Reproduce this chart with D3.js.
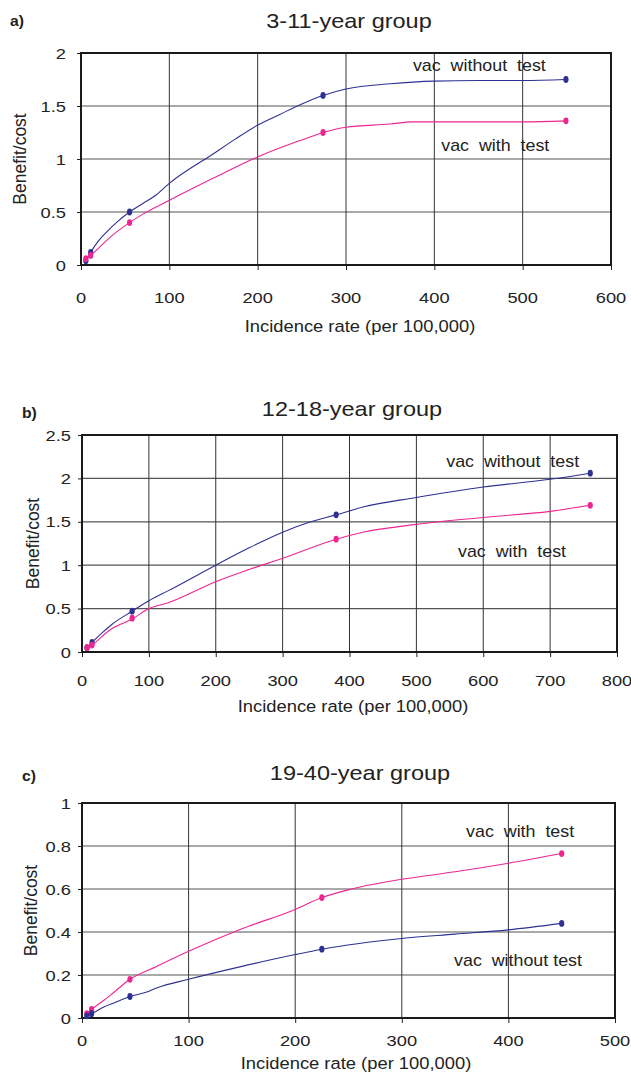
<!DOCTYPE html>
<html>
<head>
<meta charset="utf-8">
<script src="https://cdn.jsdelivr.net/npm/d3@7"></script>
<style>
  body { margin: 0; background: #fff; }
  svg { display: block; font-family: "Liberation Sans", Arial, sans-serif; }
  text { white-space: pre; }
</style>
</head>
<body>
<svg id="chart"></svg>
<script>
const width = 631;
const height = 1074;

// panel a) 3-11-year group
const aWithoutLine = [[5.5,0.04],[11,0.12],[20,0.23],[30,0.32],[40,0.40],[55,0.50],[70,0.58],[85,0.66],[100,0.77],[150,1.05],[175,1.19],[200,1.32],[225,1.42],[250,1.52],[274,1.60],[300,1.66],[350,1.71],[400,1.735],[450,1.74],[500,1.74],[549,1.75]];
const aWithoutPts = [[5.5,0.04],[11,0.12],[55,0.50],[274,1.60],[549,1.75]];
const aWithLine = [[5.5,0.06],[11,0.09],[20,0.16],[30,0.24],[40,0.31],[55,0.40],[70,0.48],[100,0.61],[150,0.82],[200,1.02],[250,1.18],[274,1.25],[300,1.30],[350,1.33],[375,1.35],[450,1.35],[500,1.35],[549,1.36]];
const aWithPts = [[5.5,0.06],[11,0.09],[55,0.40],[274,1.25],[549,1.36]];

// panel b) 12-18-year group
const bWithoutLine = [[7.5,0.05],[15,0.11],[30,0.22],[45,0.32],[75,0.47],[100,0.59],[130,0.71],[200,1.00],[250,1.20],[300,1.38],[342,1.50],[380,1.58],[420,1.67],[500,1.78],[600,1.90],[700,1.99],[760,2.06]];
const bWithoutPts = [[7.5,0.05],[15,0.11],[75,0.47],[380,1.58],[760,2.06]];
const bWithLine = [[7.5,0.05],[15,0.08],[30,0.18],[45,0.27],[75,0.38],[100,0.50],[130,0.57],[200,0.81],[250,0.95],[300,1.08],[380,1.30],[420,1.38],[500,1.47],[600,1.55],[700,1.62],[760,1.69]];
const bWithPts = [[7.5,0.05],[15,0.08],[75,0.39],[380,1.30],[760,1.69]];

// panel c) 19-40-year group
const cWithLine = [[4.5,0.02],[9,0.04],[20,0.08],[30,0.12],[45,0.18],[70,0.24],[100,0.31],[150,0.415],[200,0.505],[225,0.56],[253,0.60],[300,0.645],[350,0.68],[400,0.72],[450,0.765]];
const cWithPts = [[4.5,0.02],[9,0.04],[45,0.18],[225,0.56],[450,0.765]];
const cWithoutLine = [[4.5,0.01],[9,0.02],[20,0.05],[30,0.07],[45,0.10],[60,0.12],[70,0.14],[100,0.18],[150,0.24],[200,0.295],[225,0.32],[300,0.37],[350,0.39],[400,0.41],[450,0.44]];
const cWithoutPts = [[4.5,0.01],[9,0.02],[45,0.10],[225,0.32],[450,0.44]];

const xTicksA = [0, 100, 200, 300, 400, 500, 600];
const yTicksA = [0, 0.5, 1, 1.5, 2];
const xTicksB = [0, 100, 200, 300, 400, 500, 600, 700, 800];
const yTicksB = [0, 0.5, 1, 1.5, 2, 2.5];
const xTicksC = [0, 100, 200, 300, 400, 500];
const yTicksC = [0, 0.2, 0.4, 0.6, 0.8, 1];

const blue = "#2e3192";
const pink = "#ec2690";
const ink = "#222";

const panels = [
  { tag: "a)", title: "3-11-year group", box: [81, 53, 611, 265], xMax: 600, yMax: 2,
    xTicks: xTicksA, yTicks: yTicksA, tagPos: [10, 26], titleX: 349, titleY: 28, ylabX: 26, xlabX: 360, xlabY: 332, xTickY: 303, yTickX: 66,
    series: [
      { line: aWithoutLine, pts: aWithoutPts, color: blue, label: "vac  without  test", lx: 451, ly: 1.83 },
      { line: aWithLine, pts: aWithPts, color: pink, label: "vac  with  test", lx: 469, ly: 1.075 }
    ] },
  { tag: "b)", title: "12-18-year group", box: [82, 435, 617, 652], xMax: 800, yMax: 2.5,
    xTicks: xTicksB, yTicks: yTicksB, tagPos: [22, 418], titleX: 352, titleY: 416, ylabX: 39, xlabX: 353, xlabY: 712, xTickY: 686, yTickX: 71,
    series: [
      { line: bWithoutLine, pts: bWithoutPts, color: blue, label: "vac  without  test", lx: 644, ly: 2.13 },
      { line: bWithLine, pts: bWithPts, color: pink, label: "vac  with  test", lx: 643, ly: 1.10 }
    ] },
  { tag: "c)", title: "19-40-year group", box: [82, 803, 615, 1018], xMax: 500, yMax: 1,
    xTicks: xTicksC, yTicks: yTicksC, tagPos: [22, 781], titleX: 360, titleY: 780, ylabX: 37, xlabX: 356, xlabY: 1069, xTickY: 1046, yTickX: 71,
    series: [
      { line: cWithLine, pts: cWithPts, color: pink, label: "vac  with  test", lx: 411, ly: 0.84 },
      { line: cWithoutLine, pts: cWithoutPts, color: blue, label: "vac  without test", lx: 409, ly: 0.24 }
    ] }
];

const svg = d3.select("#chart")
  .attr("width", width)
  .attr("height", height)
  .attr("viewBox", [0, 0, width, height]);

// text drawn slightly wider than the font, like the reference
function label(g, x, y, str, size, anchor, sx, weight) {
  return g.append("text")
    .attr("transform", `translate(${x},${y}) scale(${sx},1)`)
    .attr("text-anchor", anchor)
    .style("font-size", size + "px")
    .style("font-weight", weight || "normal")
    .attr("fill", ink)
    .text(str);
}

panels.forEach(p => {
  const [x0, y0, x1, y1] = p.box;
  const x = d3.scaleLinear().domain([0, p.xMax]).range([x0, x1]);
  const y = d3.scaleLinear().domain([0, p.yMax]).range([y1, y0]);
  const g = svg.append("g");

  label(g, p.tagPos[0], p.tagPos[1], p.tag, 15, "start", 1.05, "bold");
  label(g, p.titleX, p.titleY, p.title, 21, "middle", 1.12);

  // grid
  g.append("g").selectAll("line")
    .data(p.yTicks.slice(1, -1))
    .join("line")
    .attr("x1", x0).attr("x2", x1)
    .attr("y1", d => y(d)).attr("y2", d => y(d))
    .attr("stroke", "#555").attr("stroke-width", 1.2);
  g.append("g").selectAll("line")
    .data(p.xTicks.slice(1, -1))
    .join("line")
    .attr("y1", y0).attr("y2", y1)
    .attr("x1", d => x(d)).attr("x2", d => x(d))
    .attr("stroke", "#333").attr("stroke-width", 1);

  // axes: tick marks from d3, labels placed by the same scales
  const xAxis = g.append("g")
    .attr("transform", `translate(0,${y1})`)
    .call(d3.axisBottom(x).tickValues(p.xTicks).tickSize(5).tickFormat(""));
  xAxis.select(".domain").remove();
  xAxis.selectAll("line").attr("stroke", ink);
  p.xTicks.forEach(t => label(g, x(t), p.xTickY, String(t), 15.5, "middle", 1.18));

  const yAxis = g.append("g")
    .attr("transform", `translate(${x0},0)`)
    .call(d3.axisLeft(y).tickValues(p.yTicks).tickSize(4).tickFormat(""));
  yAxis.select(".domain").remove();
  yAxis.selectAll("line").attr("stroke", ink);
  p.yTicks.forEach(t => label(g, p.yTickX, y(t) + 5.5, String(t), 15.5, "end", 1.18));

  // frame
  g.append("rect")
    .attr("x", x0).attr("y", y0)
    .attr("width", x1 - x0).attr("height", y1 - y0)
    .attr("fill", "none").attr("stroke", "#1a1a1a").attr("stroke-width", 2);

  // axis titles
  g.append("text")
    .attr("transform", `translate(${p.ylabX},${(y0 + y1) / 2}) rotate(-90)`)
    .attr("text-anchor", "middle")
    .style("font-size", "17.5px").attr("fill", ink)
    .text("Benefit/cost");
  label(g, p.xlabX, p.xlabY, "Incidence rate (per 100,000)", 17, "middle", 1.08);

  // series
  const line = d3.line()
    .x(d => x(d[0])).y(d => y(d[1]))
    .curve(d3.curveMonotoneX);

  p.series.forEach(s => {
    g.append("path")
      .datum(s.line)
      .attr("d", line)
      .attr("fill", "none")
      .attr("stroke", s.color)
      .attr("stroke-width", 1.1);
    g.append("g").selectAll("ellipse")
      .data(s.pts)
      .join("ellipse")
      .attr("cx", d => x(d[0])).attr("cy", d => y(d[1]))
      .attr("rx", 2.6).attr("ry", 3.4)
      .attr("fill", s.color);
    label(g, x(s.lx), y(s.ly), s.label, 17, "middle", 1.05);
  });
});
</script>
</body>
</html>
